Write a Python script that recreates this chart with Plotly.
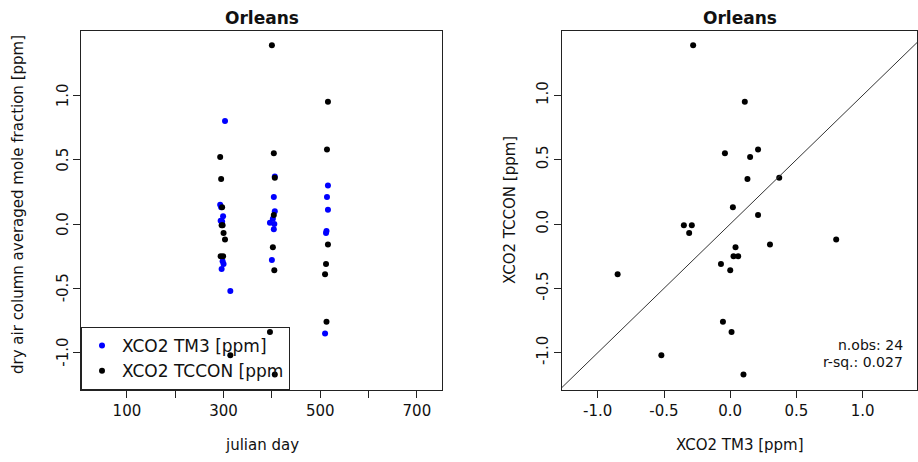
import plotly.graph_objects as go

# ---- data ----
days = [293, 295, 297, 296, 298, 300, 294, 299, 303, 314,
        400, 404, 406, 402, 405, 396, 406, 404,
        516, 514, 516, 512, 510, 513]
xco2_tm3 = [0.15, 0.13, 0.02, -0.35, -0.29, -0.31, 0.025, 0.06, 0.80, -0.52,
            -0.28, -0.04, 0.37, 0.04, 0.00, 0.01, 0.10, 0.21,
            0.11, 0.21, 0.30, -0.07, -0.85, -0.055]
xco2_tccon = [0.52, 0.35, 0.13, -0.01, -0.01, -0.07, -0.25, -0.25, -0.12, -1.02,
              1.39, 0.55, 0.36, -0.18, -0.36, -0.84, -1.17, 0.07,
              0.95, 0.58, -0.16, -0.31, -0.39, -0.76]
site = "Orleans"
n_obs = 24
r_sq = 0.027

left_xticks = [100, 200, 300, 400, 500, 600, 700]
left_xlabels = ["100", "", "300", "", "500", "", "700"]
yticks = [-1.0, -0.5, 0.0, 0.5, 1.0]
ylabels = ["-1.0", "-0.5", "0.0", "0.5", "1.0"]

x1_range = [5, 752]
y_range = [-1.29, 1.50]
x2_range = [-1.27, 1.41]

W, H = 918, 462
FONT = "DejaVu Sans"
FS = 15

fig = go.Figure()

fig.add_trace(go.Scatter(x=days, y=xco2_tm3, mode="markers", name="XCO2 TM3 [ppm]",
                         marker=dict(color="#0000ff", size=6, symbol="circle"),
                         xaxis="x", yaxis="y"))
fig.add_trace(go.Scatter(x=days, y=xco2_tccon, mode="markers", name="XCO2 TCCON [ppm",
                         marker=dict(color="black", size=6, symbol="circle"),
                         xaxis="x", yaxis="y"))
fig.add_trace(go.Scatter(x=xco2_tm3, y=xco2_tccon, mode="markers", showlegend=False,
                         marker=dict(color="black", size=6, symbol="circle"),
                         xaxis="x2", yaxis="y2"))
# 1:1 reference line
lim = [min(x2_range[0], y_range[0]), max(x2_range[1], y_range[1])]
fig.add_trace(go.Scatter(x=lim, y=lim, mode="lines", showlegend=False,
                         line=dict(color="#333333", width=1),
                         xaxis="x2", yaxis="y2"))

ydom = [1 - 390 / H, 1 - 31 / H]
axis_common = dict(showgrid=False, zeroline=False, showline=True, linecolor="#222222",
                   linewidth=1, mirror=True, ticks="outside", ticklen=7, tickcolor="#222222",
                   tickfont=dict(family=FONT, size=FS, color="#111111"))

fig.update_layout(
    width=W, height=H, margin=dict(l=0, r=0, t=0, b=0),
    paper_bgcolor="white", plot_bgcolor="white",
    font=dict(family=FONT, size=FS, color="#111111"),
    xaxis=dict(domain=[81 / W, 442 / W], range=x1_range, tickvals=left_xticks,
               ticktext=left_xlabels, anchor="y", **axis_common),
    yaxis=dict(domain=ydom, range=y_range, tickvals=yticks, showticklabels=False,
               anchor="x", **axis_common),
    xaxis2=dict(domain=[562 / W, 917 / W], range=x2_range, tickvals=yticks,
                ticktext=ylabels, anchor="y2", **axis_common),
    yaxis2=dict(domain=ydom, range=y_range, tickvals=yticks, ticktext=ylabels,
                tickangle=-90, anchor="x2", ticklabelstandoff=0, **axis_common),
    legend=dict(x=81 / W, y=1 - 390 / H, xanchor="left", yanchor="bottom",
                bgcolor="rgba(255,255,255,0)", bordercolor="#222222", borderwidth=1,
                font=dict(family=FONT, size=17, color="#111111"),
                itemsizing="trace", tracegroupgap=0),
    showlegend=True,
)

def note(text, xp, yp, angle=0, xanchor="center", size=FS):
    return dict(text=text, x=xp / W, y=1 - yp / H, xref="paper", yref="paper",
                showarrow=False, textangle=angle, xanchor=xanchor, yanchor="middle",
                font=dict(family=FONT, size=size, color="#111111"))

ann = [
    note("<b>%s</b>" % site, (81 + 442) / 2, 18, size=17),
    note("<b>%s</b>" % site, (562 + 917) / 2, 18, size=17),
    note("julian day", (81 + 442) / 2, 445),
    note("XCO2 TM3 [ppm]", (562 + 917) / 2, 445),
    note("dry air column averaged mole fraction [ppm]", 18, 205, angle=-90),
    note("XCO2 TCCON [ppm]", 510, 210, angle=-90),
    note("n.obs: %d" % n_obs, 905, 345, xanchor="right", size=14),
    note("r-sq.: %.3f" % r_sq, 905, 362, xanchor="right", size=14),
]
# left panel y tick labels, placed through the y axis
for v, lab in zip(yticks, ylabels):
    ann.append(dict(text=lab, x=63 / W, y=v, xref="paper", yref="y", showarrow=False,
                    textangle=-90, xanchor="center", yanchor="middle",
                    font=dict(family=FONT, size=FS, color="#111111")))
fig.update_layout(annotations=ann)

fig.write_html("out.html")
